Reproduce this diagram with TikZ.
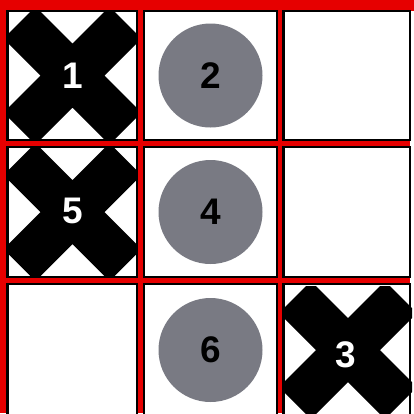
\documentclass[tikz,border=0pt]{standalone}
\usepackage{fontspec}
\setmainfont{Liberation Sans}
\definecolor{gridred}{RGB}{230,0,0}
\definecolor{discgray}{RGB}{121,122,131}
\tikzset{
  cellbox/.style={draw=black, line width=2.5pt, fill=white},
  whitenum/.style={text=white, font=\fontsize{37}{37}\selectfont\bfseries, inner sep=0pt},
  blacknum/.style={text=black, font=\fontsize{37}{37}\selectfont\bfseries, inner sep=0pt},
  disc/.style={circle, fill=discgray, minimum size=104pt, inner sep=0pt},
  xmark/.pic={
    \fill[black] (-42,-64) -- (-32,-64) -- (0,-32) -- (32,-64) -- (42,-64) -- (64,-42)
      -- (64,-32) -- (32,0) -- (64,32) -- (64,42) -- (42,64) -- (32,64) -- (0,32)
      -- (-32,64) -- (-42,64) -- (-64,42) -- (-64,32) -- (-32,0) -- (-64,-32)
      -- (-64,-42) -- cycle;
  }
}
\begin{document}
\begin{tikzpicture}[x=1pt,y=-1pt]
\useasboundingbox (0,0) rectangle (414,413);
\clip (0,0) rectangle (414,413);
\fill[gridred] (0,0) rectangle (414,413);
\fill[white] (410,11) rectangle (414,413);
% row 1
\draw[cellbox] (7.5,11) rectangle (137,140);
\draw[cellbox] (144,11) rectangle (277,140);
\draw[cellbox] (283.5,11) rectangle (410,140);
% row 2
\draw[cellbox] (7.5,147) rectangle (137,277);
\draw[cellbox] (144,147) rectangle (277,277);
\draw[cellbox] (283.5,147) rectangle (410,277);
% row 3
\draw[cellbox] (7.5,284) rectangle (137,418);
\draw[cellbox] (144,284) rectangle (277,418);
\draw[cellbox] (283.5,284) rectangle (410,418);
% crosses
\pic at (72.5,75.5) {xmark};
\pic at (72.5,212) {xmark};
\pic at (348,350) {xmark};
% redraw borders over the crosses
\draw[draw=black, line width=2.5pt] (7.5,11) rectangle (137,140);
\draw[draw=black, line width=2.5pt] (7.5,147) rectangle (137,277);
\draw[draw=black, line width=2.5pt] (283.5,284) rectangle (410,418);
% discs
\node[disc] (d2) at (210.5,75.5) {};
\node[disc] (d4) at (210.5,212) {};
\node[disc] (d6) at (210.5,350) {};
% numbers
\node[whitenum] (n1) at (72.5,76) {1};
\node[whitenum] (n5) at (72.5,211) {5};
\node[whitenum] (n3) at (346,355) {3};
\node[blacknum] (n2) at (d2) {2};
\node[blacknum] (n4) at (d4) {4};
\node[blacknum] (n6) at (d6) {6};
\end{tikzpicture}
\end{document}
